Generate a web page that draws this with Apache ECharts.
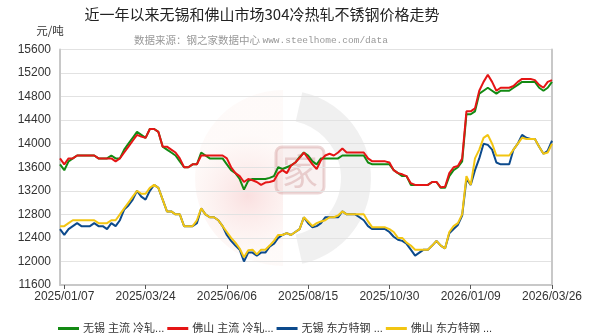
<!DOCTYPE html>
<html><head><meta charset="utf-8">
<script src="https://cdn.jsdelivr.net/npm/echarts@6/dist/echarts.min.js"></script>
<style>html,body{margin:0;padding:0;background:#fff}#c{width:600px;height:336px}</style>
</head><body><div id="c"></div>
<script>
const dates = [
'2025/01/03','2025/01/07','2025/01/11','2025/01/15','2025/01/19','2025/01/23','2025/01/27','2025/01/31','2025/02/04','2025/02/08',
'2025/02/12','2025/02/16','2025/02/20','2025/02/24','2025/02/28','2025/03/04','2025/03/08','2025/03/12','2025/03/16','2025/03/20',
'2025/03/24','2025/03/28','2025/04/01','2025/04/05','2025/04/09','2025/04/13','2025/04/17','2025/04/21','2025/04/25','2025/04/29',
'2025/05/03','2025/05/07','2025/05/11','2025/05/15','2025/05/19','2025/05/23','2025/05/27','2025/05/31','2025/06/03','2025/06/06',
'2025/06/10','2025/06/14','2025/06/18','2025/06/22','2025/06/26','2025/06/30','2025/07/04','2025/07/08','2025/07/12','2025/07/16',
'2025/07/20','2025/07/24','2025/07/28','2025/07/31','2025/08/03','2025/08/06','2025/08/09','2025/08/12','2025/08/15','2025/08/19',
'2025/08/23','2025/08/27','2025/08/31','2025/09/04','2025/09/08','2025/09/12','2025/09/16','2025/09/20','2025/09/24','2025/09/28',
'2025/10/02','2025/10/06','2025/10/10','2025/10/14','2025/10/18','2025/10/22','2025/10/26','2025/10/30','2025/11/03','2025/11/07',
'2025/11/11','2025/11/15','2025/11/19','2025/11/23','2025/11/27','2025/12/01','2025/12/05','2025/12/09','2025/12/13','2025/12/17',
'2025/12/21','2025/12/25','2025/12/28','2025/12/31','2026/01/03','2026/01/06','2026/01/09','2026/01/13','2026/01/17','2026/01/21',
'2026/01/25','2026/01/29','2026/02/02','2026/02/06','2026/02/10','2026/02/14','2026/02/18','2026/02/22','2026/02/26','2026/03/02',
'2026/03/06','2026/03/10','2026/03/14','2026/03/18','2026/03/22','2026/03/26'
];
const tickLabels = ['2025/01/07','2025/03/24','2025/06/06','2025/08/15','2025/10/30','2026/01/09','2026/03/26'];

const wuxiMain = [
13650,13550,13700,13750,13800,13800,13800,13800,13800,13750,
13750,13750,13800,13750,13750,13900,14000,14100,14200,14150,
14100,14250,14250,14200,13950,13900,13850,13800,13700,13600,
13600,13650,13650,13850,13800,13750,13750,13750,13750,13650,
13550,13500,13400,13220,13370,13400,13400,13400,13400,13420,
13450,13600,13570,13600,13630,13680,13770,13850,13800,13700,
13650,13750,13750,13750,13750,13750,13800,13800,13800,13800,
13800,13800,13680,13650,13650,13650,13650,13650,13550,13500,
13450,13450,13300,13300,13300,13300,13300,13350,13350,13250,
13250,13450,13550,13600,13700,14500,14500,14550,14850,14900,
14950,14900,14850,14900,14900,14900,14950,15000,15050,15050,
15050,15050,14950,14900,14950,15050
];
const foshanMain = [
13750,13650,13750,13750,13800,13800,13800,13800,13800,13750,
13750,13750,13750,13700,13750,13850,13950,14050,14150,14120,
14100,14250,14250,14200,13950,13950,13900,13850,13750,13600,
13600,13650,13650,13800,13800,13800,13800,13800,13800,13750,
13600,13500,13450,13350,13400,13380,13350,13300,13340,13350,
13370,13500,13550,13500,13630,13680,13760,13850,13750,13650,
13570,13720,13800,13830,13800,13850,13920,13850,13850,13850,
13850,13850,13750,13700,13700,13700,13700,13680,13550,13500,
13480,13450,13330,13300,13300,13300,13300,13350,13350,13260,
13270,13500,13600,13620,13750,14550,14550,14600,14900,15050,
15170,15050,14900,14950,14950,14950,14980,15050,15100,15100,
15100,15080,15000,14950,15050,15080
];
const wuxiDongfang = [
12550,12450,12550,12600,12650,12600,12600,12600,12650,12600,
12600,12550,12650,12600,12700,12880,12950,13050,13200,13100,
13050,13200,13300,13250,13050,12850,12850,12800,12800,12600,
12600,12600,12650,12900,12800,12750,12750,12700,12600,12450,
12350,12270,12200,12000,12150,12150,12100,12150,12150,12250,
12300,12400,12450,12480,12450,12500,12550,12750,12650,12580,
12600,12650,12750,12750,12750,12750,12850,12800,12800,12800,
12750,12700,12600,12550,12550,12550,12550,12500,12420,12370,
12350,12300,12200,12100,12150,12200,12200,12270,12350,12270,
12220,12480,12550,12620,12780,13400,13300,13550,13750,14000,
13980,13900,13680,13650,13650,13650,13900,14000,14150,14100,
14080,14080,13950,13830,13880,14050
];
const foshanDongfang = [
12600,12600,12650,12700,12700,12700,12700,12700,12700,12650,
12650,12650,12700,12700,12800,12900,13000,13100,13200,13150,
13150,13250,13300,13250,13050,12850,12850,12800,12800,12600,
12600,12600,12700,12900,12800,12750,12750,12700,12600,12500,
12400,12320,12220,12070,12190,12200,12120,12200,12200,12270,
12350,12450,12450,12480,12450,12500,12550,12750,12680,12600,
12650,12680,12700,12750,12750,12780,12850,12800,12800,12800,
12800,12800,12680,12580,12580,12580,12580,12550,12500,12400,
12400,12320,12270,12200,12200,12200,12200,12270,12350,12270,
12220,12500,12600,12650,12800,13450,13300,13750,13900,14100,
14150,14000,13800,13800,13800,13800,13900,14000,14100,14080,
14080,14080,13950,13830,13850,14000
];
const seriesNames = ['无锡 主流 冷轧...','佛山 主流 冷轧...','无锡 东方特钢 ...','佛山 东方特钢 ...'];
const seriesData = [wuxiMain, foshanMain, wuxiDongfang, foshanDongfang];
const colors = ['#138a13','#e51515','#0c4a8c','#f2c512'];
const titleText = '近一年以来无锡和佛山市场304冷热轧不锈钢价格走势';
const sourceCn = '数据来源：钢之家数据中心 ';
const sourceUrl = 'www.steelhome.com/data';
const unitText = '元/吨';
const yMin = 11600, yMax = 15600, yStep = 400;

const FONT = "'Liberation Sans','Noto Sans CJK SC',sans-serif";
const chart = echarts.init(document.getElementById('c'), null, {renderer:'canvas'});
chart.setOption({
  animation: false,
  backgroundColor: '#fff',
  textStyle: {fontFamily: FONT},
  graphic: [
    {type:'sector', silent:true, z:0, shape:{cx:283, cy:178, r:88, r0:0, startAngle:Math.PI/2, endAngle:Math.PI*1.5},
     style:{fill:{type:'radial', x:0.6, y:0.6, r:0.7, colorStops:[{offset:0,color:'rgba(238,150,150,0.30)'},{offset:1,color:'rgba(248,215,205,0.12)'}]}}},
    {type:'sector', silent:true, z:0, shape:{cx:283, cy:178, r:88, r0:58, startAngle:-1.35, endAngle:1.35},
     style:{fill:'rgba(205,205,205,0.30)'}},
    {type:'rect', silent:true, z:0, shape:{x:276, y:147, width:48, height:46, r:6},
     style:{fill:'rgba(200,120,120,0.10)', stroke:'rgba(185,95,95,0.25)', lineWidth:3}},
    {type:'text', silent:true, z:0, style:{x:300, y:171, text:'家', fill:'rgba(185,95,95,0.25)', font:'36px "Noto Sans CJK SC"', textAlign:'center', textVerticalAlign:'middle'}},
    {type:'text', silent:true, style:{x:262, y:14, text:titleText, fill:'#222', font:'15px "Noto Sans CJK SC"', textAlign:'center', textVerticalAlign:'middle'}},
    {type:'text', silent:true, style:{x:261, y:40, text:'{a|'+sourceCn+'}{b|'+sourceUrl+'}', textAlign:'center', textVerticalAlign:'middle',
      rich:{a:{fontSize:10.5, fontFamily:'Noto Sans CJK SC', fill:'#999', color:'#999'}, b:{fontSize:9.5, fontFamily:'Liberation Mono', fill:'#999', color:'#999'}}}},
    {type:'text', silent:true, style:{x:50, y:31, text:unitText, fill:'#333', font:'11.5px "Noto Sans CJK SC"', textAlign:'center', textVerticalAlign:'middle'}}
  ],
  grid: {left:60, right:48, top:49.5, bottom:51, containLabel:false},
  legend: {
    left:53, top:318, itemGap:3, itemWidth:21, itemHeight:3, icon:'rect',
    textStyle:{fontSize:11, color:'#333', fontFamily:FONT, padding:[0,0,0,-1]},
    data: seriesNames
  },
  xAxis: {
    type:'category', boundaryGap:false, data:dates,
    axisLine:{lineStyle:{color:'#c8c8c8', width:2}},
    axisTick:{show:true, length:4, interval:(i,v)=>tickLabels.indexOf(v)>=0, lineStyle:{color:'#555'}},
    axisLabel:{interval:(i,v)=>tickLabels.indexOf(v)>=0, fontSize:12, color:'#333', margin:6, fontFamily:FONT},
    splitLine:{show:false}
  },
  yAxis: [{
    type:'value', min:yMin, max:yMax, interval:yStep,
    axisLine:{show:true, lineStyle:{color:'#c8c8c8', width:2}},
    axisTick:{show:false},
    axisLabel:{fontSize:12, color:'#333', margin:9, fontFamily:FONT, formatter:(v)=>String(v)},
    splitLine:{lineStyle:{color:'#e2e2e2', width:1}}
  },{
    type:'value', min:yMin, max:yMax, interval:yStep, position:'right',
    axisLine:{show:true, lineStyle:{color:'#c8c8c8', width:2}},
    axisTick:{show:false}, axisLabel:{show:false}, splitLine:{show:false}
  }],
  series: seriesNames.map((n,k)=>({
    name:n, type:'line', data:seriesData[k], showSymbol:false, symbol:'none',
    lineStyle:{width:2, color:colors[k]}, itemStyle:{color:colors[k]}, z:2+k
  }))
});
</script></body></html>
